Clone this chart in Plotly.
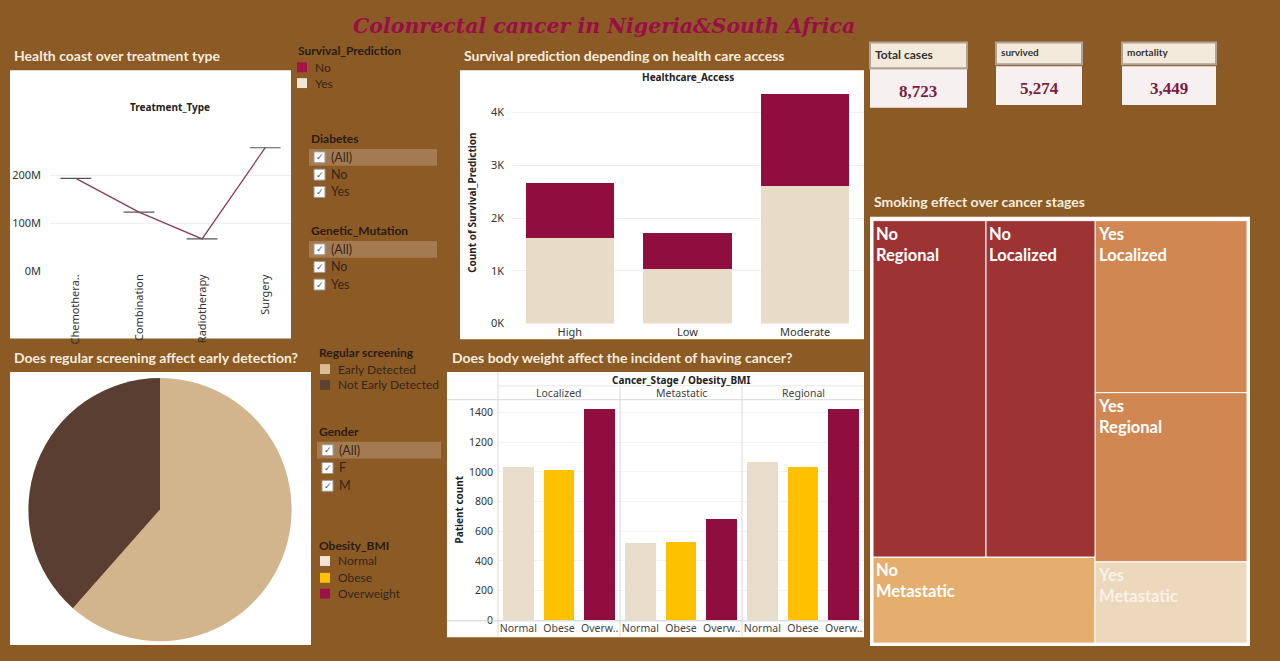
import plotly.graph_objects as go

W, H = 1280, 661
def X(p): return p / W
def Y(p): return 1 - p / H

BG = '#8B5A25'
TF = 'Lato'
BF = 'Noto Sans'
DARK = '#2A1C12'
ITEM = '#35261B'

# ---------------- data ----------------
treatment_types = ['Chemotherapy', 'Combination', 'Radiotherapy', 'Surgery']
treatment_labels = ['Chemothera..', 'Combination', 'Radiotherapy', 'Surgery']
treatment_cost = [193e6, 123e6, 67e6, 257e6]
cost_ticks = [0, 100e6, 200e6]
cost_tick_text = ['0M', '100M', '200M']

access_levels = ['High', 'Low', 'Moderate']
survived_yes = [1625, 1040, 2609]
survived_no = [1040, 675, 1734]
access_ticks = [0, 1000, 2000, 3000, 4000]
access_tick_text = ['0K', '1K', '2K', '3K', '4K']

screening_labels = ['Early Detected', 'Not Early Detected']
screening_counts = [5366, 3357]

bmi_cats = ['Normal', 'Obese', 'Overweight']
bmi_ticks = ['Normal', 'Obese', 'Overw..']
stages = ['Localized', 'Metastatic', 'Regional']
localized_counts = [1035, 1015, 1422]
metastatic_counts = [518, 530, 680]
regional_counts = [1068, 1033, 1422]

smoking_no_stage = ['Regional', 'Localized', 'Metastatic']
smoking_no_counts = [2099, 2025, 1055]
smoking_yes_stage = ['Localized', 'Regional', 'Metastatic']
smoking_yes_counts = [1443, 1420, 681]

kpi_labels = ['Total cases', 'survived', 'mortality']
kpi_values = [8723, 5274, 3449]

# ---------------- colours ----------------
C_NO = '#8F0D3F'
C_YES = '#E8DCC9'
bmi_colors = ['#E8DCCB', '#FDC100', '#8F0D3F']
pie_colors = ['#D3B58D', '#5A3E31']

fig = go.Figure()

fig.add_trace(go.Scatter(
    x=treatment_types, y=treatment_cost, mode='lines+markers',
    line=dict(color='#8C3B55', width=1.3),
    marker=dict(symbol='line-ew', size=22, color='#555555',
                line=dict(color='#555555', width=1.2)),
    xaxis='x', yaxis='y', showlegend=False, hoverinfo='x+y'))

fig.add_trace(go.Bar(x=access_levels, y=survived_yes, name='Yes',
                     marker=dict(color=C_YES, line=dict(width=0)),
                     xaxis='x2', yaxis='y2', showlegend=False))
fig.add_trace(go.Bar(x=access_levels, y=survived_no, name='No',
                     marker=dict(color=C_NO, line=dict(width=0)),
                     xaxis='x2', yaxis='y2', showlegend=False))

for i, counts in enumerate([localized_counts, metastatic_counts, regional_counts]):
    fig.add_trace(go.Bar(x=bmi_cats, y=counts, name=stages[i],
                         marker=dict(color=bmi_colors, line=dict(width=0)),
                         xaxis='x%d' % (3 + i), yaxis='y3', showlegend=False))

fig.add_trace(go.Pie(labels=screening_labels, values=screening_counts,
                     marker=dict(colors=pie_colors, line=dict(width=0)),
                     sort=False, direction='clockwise', rotation=0,
                     textinfo='none', showlegend=False,
                     domain=dict(x=[X(27), X(293)], y=[Y(648), Y(382)])))

ids = ['root', 'No', 'Yes', 'No-top']
parents = ['', 'root', 'root', 'No']
labels = ['', 'No', 'Yes', '']
texts = ['', '', '', '']
colors = ['white', '#9E3333', '#D08752', '#9E3333']
no_colors = {'Regional': '#9E3333', 'Localized': '#9E3333', 'Metastatic': '#E4AF6E'}
yes_colors = {'Localized': '#D08752', 'Regional': '#D08752', 'Metastatic': '#ECD9BD'}
leaf_vals = {}
for s, v in zip(smoking_no_stage, smoking_no_counts):
    nid = 'No-' + s
    ids.append(nid)
    parents.append('No-top' if s != 'Metastatic' else 'No')
    labels.append('No ' + s)
    texts.append('No<br>' + s)
    colors.append(no_colors[s])
    leaf_vals[nid] = v
for s, v in zip(smoking_yes_stage, smoking_yes_counts):
    nid = 'Yes-' + s
    ids.append(nid)
    parents.append('Yes')
    labels.append('Yes ' + s)
    texts.append('Yes<br>' + s)
    colors.append(yes_colors[s])
    leaf_vals[nid] = v
def node_value(nid):
    if nid in leaf_vals:
        return leaf_vals[nid]
    return sum(node_value(c) for c, p in zip(ids, parents) if p == nid)
values = [node_value(n) for n in ids]
order = ['root', 'No', 'No-top', 'No-Regional', 'No-Localized', 'No-Metastatic',
         'Yes', 'Yes-Localized', 'Yes-Regional', 'Yes-Metastatic']
idx = [ids.index(o) for o in order]
tcolors = ['white'] * len(order)
tcolors[order.index('Yes-Metastatic')] = '#F8F1E6'
fig.add_trace(go.Treemap(
    ids=[ids[i] for i in idx], parents=[parents[i] for i in idx],
    labels=[labels[i] for i in idx], values=[values[i] for i in idx],
    text=[texts[i] for i in idx], textinfo='text', branchvalues='total',
    sort=False, tiling=dict(packing='slice-dice', pad=0),
    marker=dict(colors=[colors[i] for i in idx], pad=dict(t=0, l=0, r=0, b=0),
                line=dict(color='white', width=1)),
    textposition='top left',
    textfont=dict(family=TF, size=16.5, color=tcolors, weight='bold'),
    pathbar=dict(visible=False), root=dict(color='white'),
    domain=dict(x=[X(873), X(1247)], y=[Y(650), Y(223)])))

shapes = []
def rect(x0, y0, x1, y1, fill, line=None, lw=0, layer='below'):
    shapes.append(dict(type='rect', xref='paper', yref='paper',
                       x0=X(x0), x1=X(x1), y0=Y(y1), y1=Y(y0),
                       fillcolor=fill, line=dict(color=line or fill, width=lw),
                       layer=layer))
def hline(x0, x1, y, color='#D9D9D9', w=1):
    shapes.append(dict(type='line', xref='paper', yref='paper', x0=X(x0), x1=X(x1),
                       y0=Y(y), y1=Y(y), line=dict(color=color, width=w), layer='above'))
def vline(x, y0, y1, color='#D9D9D9', w=1):
    shapes.append(dict(type='line', xref='paper', yref='paper', x0=X(x), x1=X(x),
                       y0=Y(y0), y1=Y(y1), line=dict(color=color, width=w), layer='above'))

rect(10, 71, 291, 342, 'white')
rect(460, 71, 864, 343, 'white')
rect(10, 376, 311, 652, 'white')
rect(447, 376, 864, 644, 'white')
rect(870, 219, 1250, 653, 'white')

vline(498, 376, 644)
vline(620, 390, 644)
vline(742, 390, 644)
hline(498, 864, 390, '#E6E6E6')
hline(447, 864, 404)
hline(447, 864, 627.5, '#CFCFCF')

kpi_boxes = [(870, 43, 967, 69, 870, 70, 967, 109),
             (996, 43, 1082, 65, 996, 67, 1082, 106),
             (1122, 43, 1216, 65, 1122, 67, 1216, 106)]
for (a, b, c, d, e, f, g, h) in kpi_boxes:
    rect(a, b, c, d, '#F4EADB', '#ADA296', 2)
    rect(e, f, g, h, '#F6F0F0')

ann = []
def txt(x, y, s, size=12, color=DARK, bold=False, xa='left', family=TF, **kw):
    f = dict(family=family, size=size, color=color)
    if bold:
        f['weight'] = 'bold'
    f.update(kw.pop('fontx', {}))
    ann.append(dict(x=X(x), y=Y(y), xref='paper', yref='paper', text=s,
                    showarrow=False, xanchor=xa, yanchor='middle', font=f, **kw))

txt(604, 26, 'Colonrectal cancer in Nigeria&South Africa', size=20.5, color='#9A0E47',
    bold=True, xa='center', family='DejaVu Serif', fontx=dict(style='italic'))

PT = '#F6ECDD'
txt(12, 56, 'Health coast over treatment type', 14, PT, True)
txt(462, 56, 'Survival prediction depending on health care access', 14, PT, True)
txt(12, 361, 'Does regular screening affect early detection?', 14, PT, True)
txt(450, 361, 'Does body weight affect the incident of having cancer?', 14, PT, True)
txt(872, 204, 'Smoking effect over cancer stages', 14, PT, True)

txt(170, 108, 'Treatment_Type', 10, '#222222', True, 'center', BF)
txt(688, 78, 'Healthcare_Access', 10, '#222222', True, 'center', BF)
txt(681, 384, 'Cancer_Stage / Obesity_BMI', 10, '#222222', True, 'center', BF)
for i, s in enumerate(stages):
    txt(559 + 122 * i, 397, s, 10.5, '#444444', False, 'center', BF)
ann.append(dict(x=X(472), y=Y(205), xref='paper', yref='paper', text='Count of Survival_Prediction',
                showarrow=False, textangle=-90, xanchor='center', yanchor='middle',
                font=dict(family=BF, size=10, color='#222222', weight='bold')))
ann.append(dict(x=X(459), y=Y(515), xref='paper', yref='paper', text='Patient count',
                showarrow=False, textangle=-90, xanchor='center', yanchor='middle',
                font=dict(family=BF, size=10, color='#222222', weight='bold')))

def legend_item(x, y, color, label):
    rect(x, y - 5, x + 10, y + 5, color, layer='above')
    txt(x + 16, y, label, 12, ITEM)

txt(296, 51, 'Survival_Prediction', 12, DARK, True)
legend_item(297, 68, '#A3144A', 'No')
legend_item(297, 84, '#F0E6D8', 'Yes')

txt(317, 356, 'Regular screening', 12, DARK, True)
legend_item(320, 373, '#D8BC93', 'Early Detected')
legend_item(320, 389, '#5B4232', 'Not Early Detected')

txt(317, 551, 'Obesity_BMI', 12, DARK, True)
legend_item(320, 567, '#EFE4D6', 'Normal')
legend_item(320, 584, '#FCC200', 'Obese')
legend_item(320, 600, '#9C1147', 'Overweight')

FILT_TITLES = ['Diabetes', 'Genetic_Mutation', 'Gender']
def filt(x, band_x1, y_head, items, step):
    txt(x, y_head, FILT_TITLES.pop(0), 12, DARK, True)
    y0 = y_head + 19
    rect(x, y0 - 8.5, band_x1, y0 + 8.5, '#A47A50')
    for k, lab in enumerate(items):
        yy = y0 + k * step
        rect(x + 5, yy - 5.5, x + 16, yy + 5.5, 'white', '#9C9C9C', 1, layer='above')
        txt(x + 10.5, yy, '✓', 9, '#555555', False, 'center', 'DejaVu Sans')
        txt(x + 20, yy, lab, 12.5, ITEM)

filt(309, 437, 140, ['(All)', 'No', 'Yes'], 17.5)
filt(309, 437, 233, ['(All)', 'No', 'Yes'], 17.8)
filt(317, 441, 436, ['(All)', 'F', 'M'], 18)

kpi_lab_pos = [(873, 55, 12), (999, 53, 10), (1125, 53, 10)]
kpi_val_pos = [(918, 92), (1039, 89.5), (1169, 89.5)]
for lab, val, (lx, ly, ls), (vx, vy) in zip(kpi_labels, kpi_values, kpi_lab_pos, kpi_val_pos):
    txt(lx, ly, lab, ls, '#333333', True)
    txt(vx, vy, '{:,}'.format(val), 17, '#7B1B45', True, 'center', 'Liberation Serif')

axis_common = dict(showline=False, zeroline=False, ticks='', fixedrange=True)
fig.update_layout(
    width=W, height=H, margin=dict(l=0, r=0, t=0, b=0),
    paper_bgcolor=BG, plot_bgcolor='white',
    barmode='stack', bargap=0.25,
    font=dict(family=BF, size=11, color='#333333'),
    shapes=shapes, annotations=ann,
    xaxis=dict(domain=[X(50), X(291)], anchor='y', tickangle=-90,
               tickvals=treatment_types, ticktext=treatment_labels,
               tickfont=dict(size=11, color='#333333'), showgrid=False, **axis_common),
    yaxis=dict(domain=[Y(274), Y(143)], anchor='x', range=[0, 270e6],
               tickvals=cost_ticks, ticktext=cost_tick_text, gridcolor='#EFEFEF',
               tickfont=dict(size=11, color='#333333'), ticklabelstandoff=8, **axis_common),
    xaxis2=dict(domain=[X(511), X(864)], anchor='y2', showgrid=False,
                tickfont=dict(size=11, color='#333333'), **axis_common),
    yaxis2=dict(domain=[Y(327), Y(86)], anchor='x2', range=[0, 4520],
                tickvals=access_ticks, ticktext=access_tick_text, gridcolor='#F0F0F0',
                tickfont=dict(size=11, color='#333333'), ticklabelstandoff=6, **axis_common),
    xaxis3=dict(domain=[X(498), X(620)], anchor='y3', tickvals=bmi_cats, ticktext=bmi_ticks,
                showgrid=False, tickfont=dict(size=10.5, color='#444444'), **axis_common),
    xaxis4=dict(domain=[X(620), X(742)], anchor='y3', tickvals=bmi_cats, ticktext=bmi_ticks,
                showgrid=False, tickfont=dict(size=10.5, color='#444444'), **axis_common),
    xaxis5=dict(domain=[X(742), X(864)], anchor='y3', tickvals=bmi_cats, ticktext=bmi_ticks,
                showgrid=False, tickfont=dict(size=10.5, color='#444444'), **axis_common),
    yaxis3=dict(domain=[Y(627), Y(405)], anchor='x3', range=[0, 1480], dtick=200,
                gridcolor='#F3F3F3', tickfont=dict(size=10.5, color='#333333'),
                ticklabelstandoff=4, **axis_common),
)

fig.write_html('out.html')
